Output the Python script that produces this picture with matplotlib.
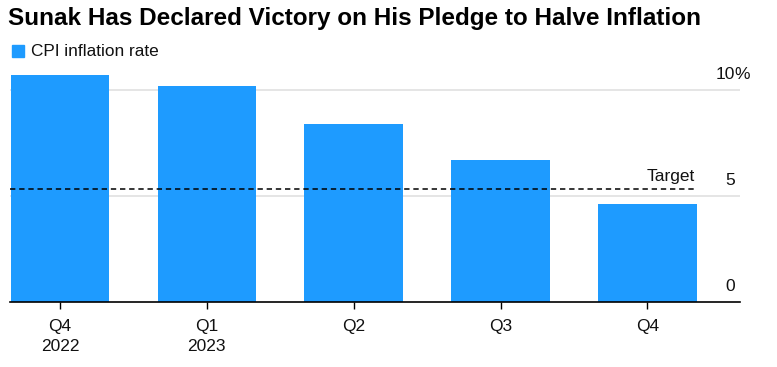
import matplotlib.pyplot as plt

# ─────────────────────────────
# Data
# ─────────────────────────────
quarters = ["Q4\n2022", "Q1\n2023", "Q2", "Q3", "Q4"]
cpi_rate = [10.7, 10.2, 8.4, 6.7, 4.6]
target = 5.35
ytick_vals = [0, 5, 10]
ytick_labels = ["0", "5", "10"]

plt.rcParams['font.family'] = ['Liberation Sans', 'DejaVu Sans']

BLUE = '#1e9bff'
TXT = '#111111'

fig = plt.figure(figsize=(7.77, 3.67), dpi=100)
ax = fig.add_axes([10 / 777, 65 / 367, 730 / 777, 233 / 367])

x = list(range(len(quarters)))

# gridlines
for v in ytick_vals[1:]:
    ax.axhline(v, color='#e0e0e0', lw=1.2, zorder=0)

ax.bar(x, cpi_rate, width=0.67, color=BLUE, zorder=2)

# target line
ax.plot([-0.34, x[-1] + 0.33], [target, target], color='black', lw=1.1,
        ls=(0, (3.5, 2.5)), zorder=3)
ax.text(x[-1] + 0.32, target + 0.2, "Target", ha='right', va='bottom',
        fontsize=12.5, color=TXT)

# y labels on the right, above gridlines (numbers right-aligned, % hangs out)
lab_x = 4.595
for v, lab in zip(ytick_vals, ytick_labels):
    ax.text(lab_x, v + 0.4, lab, ha='right', va='bottom', fontsize=12.5,
            color=TXT)
ax.text(lab_x, ytick_vals[-1] + 0.4, "%", ha='left', va='bottom',
        fontsize=12.5, color=TXT)

ax.set_xlim(-0.34, 4.63)
ax.set_ylim(0, 10.99)
ax.set_yticks([])
ax.set_xticks(x)
ax.set_xticklabels(quarters, fontsize=12.5, color=TXT, linespacing=1.45)
ax.tick_params(axis='x', length=5, width=1, pad=7, color='black')

for s in ['top', 'right', 'left']:
    ax.spines[s].set_visible(False)
ax.spines['bottom'].set_linewidth(1.2)
ax.spines['bottom'].set_zorder(4)

# title + legend
fig.text(8 / 777, 1 - 19 / 367, "Sunak Has Declared Victory on His Pledge to Halve Inflation",
         fontsize=17.5, fontweight='bold', va='center', ha='left')
fig.patches.append(plt.Rectangle((12 / 777, 1 - 57 / 367), 12 / 777, 12 / 367,
                                 transform=fig.transFigure, color=BLUE))
fig.text(31 / 777, 1 - 51 / 367, "CPI inflation rate", fontsize=12.4,
         va='center', ha='left', color=TXT)

plt.savefig("out.png", dpi=100)
